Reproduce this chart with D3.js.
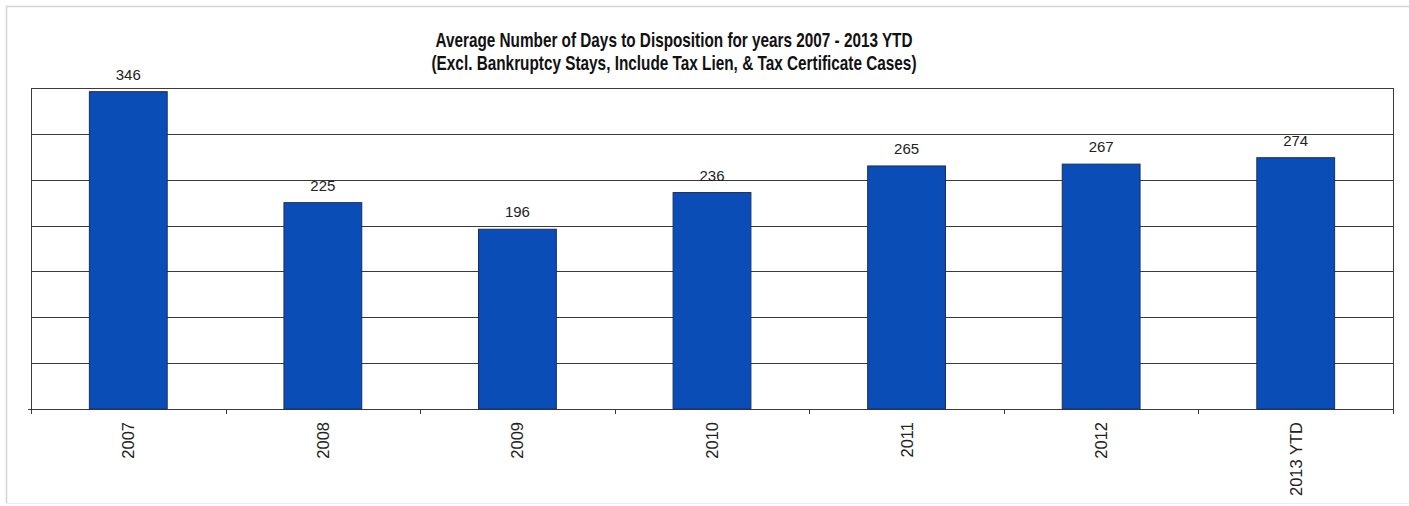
<!DOCTYPE html>
<html><head><meta charset="utf-8">
<script src="https://cdn.jsdelivr.net/npm/d3@7"></script>
<style>html,body{margin:0;padding:0;background:#fff;}svg{display:block;}</style>
</head><body>
<script>
const categories = ["2007","2008","2009","2010","2011","2012","2013 YTD"];
const values = [346,225,196,236,265,267,274];
const yTicks = [0,50,100,150,200,250,300,350];
const titleLines = ["Average Number of Days to Disposition  for years 2007 - 2013 YTD",
                    "(Excl. Bankruptcy Stays, Include Tax Lien, & Tax Certificate Cases)"];

const W = 1409, H = 506;
const plot = {left: 31, right: 1393, top: 88, bottom: 409};
const svg = d3.select("body").append("svg").attr("width", W).attr("height", H);

// outer frame
svg.append("line").attr("x1",6).attr("x2",W).attr("y1",6.5).attr("y2",6.5).attr("stroke","#d4d4d4").attr("stroke-width",1.5);
svg.append("line").attr("x1",6.5).attr("x2",6.5).attr("y1",6).attr("y2",503).attr("stroke","#d4d4d4").attr("stroke-width",1.5);
svg.append("line").attr("x1",6).attr("x2",W).attr("y1",503.5).attr("y2",503.5).attr("stroke","#eeeeee").attr("stroke-width",1);

const x = d3.scaleBand().domain(categories).range([plot.left, plot.right]).paddingInner(0.6).paddingOuter(0.3);
const y = d3.scaleLinear().domain([0,350]).range([plot.bottom, plot.top]);

// gridlines
svg.append("g").selectAll("line").data(yTicks).join("line")
  .attr("x1", plot.left).attr("x2", plot.right)
  .attr("y1", d => Math.round(y(d))+0.5).attr("y2", d => Math.round(y(d))+0.5)
  .attr("stroke", "#3a3a3a").attr("stroke-width", 1);
// plot left/right borders
svg.append("line").attr("x1",plot.left+0.5).attr("x2",plot.left+0.5).attr("y1",plot.top).attr("y2",plot.bottom+5).attr("stroke","#3a3a3a");
svg.append("line").attr("x1",plot.right+0.5).attr("x2",plot.right+0.5).attr("y1",plot.top).attr("y2",plot.bottom+5).attr("stroke","#3a3a3a");
// category boundary ticks
const step = x.step();
const bounds = d3.range(1, categories.length).map(i => plot.left + i*step);
svg.append("g").selectAll("line").data(bounds).join("line")
  .attr("x1", d => Math.round(d)+0.5).attr("x2", d => Math.round(d)+0.5)
  .attr("y1", plot.bottom).attr("y2", plot.bottom+5).attr("stroke","#3a3a3a");
svg.append("line").attr("x1",plot.left-3).attr("x2",plot.left).attr("y1",plot.bottom+0.5).attr("y2",plot.bottom+0.5).attr("stroke","#3a3a3a");

// bars
svg.append("g").selectAll("rect").data(values).join("rect")
  .attr("x", (d,i) => x(categories[i]))
  .attr("y", d => y(d))
  .attr("width", x.bandwidth())
  .attr("height", d => plot.bottom - y(d))
  .attr("fill", "#0a4db6").attr("stroke", "#1b2d63").attr("stroke-width", 1);

// value labels
svg.append("g").selectAll("text").data(values).join("text")
  .attr("x", (d,i) => x(categories[i]) + x.bandwidth()/2)
  .attr("y", d => y(d) - 12)
  .attr("text-anchor","middle")
  .attr("font-family","'Liberation Sans', Arial, sans-serif")
  .attr("font-size", 15).attr("fill","#222")
  .text(d => d);

// x labels
svg.append("g").selectAll("text").data(categories).join("text")
  .attr("transform", d => `translate(${x(d)+x.bandwidth()/2+6},${plot.bottom+13}) rotate(-90)`)
  .attr("text-anchor","end")
  .attr("font-family","'Liberation Sans', Arial, sans-serif")
  .attr("font-size", 16.5).attr("fill","#222")
  .text(d => d);

// title
const tY = [47, 70], tLen = [477, 485];
svg.append("g").selectAll("text").data(titleLines).join("text")
  .attr("x", 674).attr("y", (d,i) => tY[i])
  .attr("text-anchor","middle")
  .attr("font-family","'Liberation Sans', Arial, sans-serif")
  .attr("font-weight","bold").attr("font-size", 21).attr("fill","#111")
  .attr("textLength", (d,i) => tLen[i]).attr("lengthAdjust","spacingAndGlyphs")
  .text(d => d);
</script>
</body></html>
